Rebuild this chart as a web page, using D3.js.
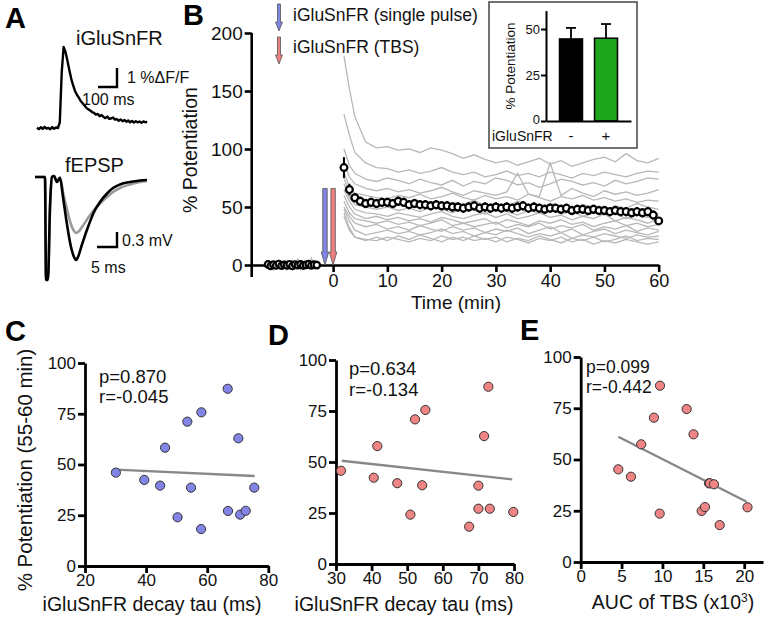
<!DOCTYPE html>
<html><head><meta charset="utf-8">
<script src="https://cdn.jsdelivr.net/npm/d3@7"></script>
<style>body{margin:0;background:#fff}svg{display:block}</style>
</head><body><svg id="c" width="766" height="622"></svg>
<script>
// ---------------- DATA ----------------
// Panel A: iGluSnFR single-pulse transient (%dF/F vs ms)
const snfrTimeMs = [0,10,20,30,40,50,60,70,80,90,100,110,120,130,140,150,160,170,180,190,200,210,220,230,240,250,260,270,280,290,300,310,320,330,340,350,360,370,380,390,400,410,420,430,440,450,460,470,480,490,500,510,520,530,540,550,560,570,580];
const snfrDff = [0.02,-0.06,0.04,-0.05,0.06,-0.03,0.0,-0.07,0.05,-0.04,0.03,0.0,0.3,2.9,4.26,4.0,3.55,3.05,2.6,2.25,1.95,1.75,1.6,1.42,1.3,1.18,1.06,0.98,0.92,0.84,0.8,0.7,0.74,0.62,0.68,0.58,0.52,0.6,0.48,0.5,0.55,0.44,0.47,0.38,0.45,0.36,0.42,0.33,0.4,0.3,0.37,0.28,0.36,0.3,0.34,0.27,0.35,0.3,0.32];
// Panel A: fEPSP before (gray) / after (black) TBS (mV vs ms)
const fepspTimeMs = [0,2,2.5,2.75,3.25,3.75,4.25,4.75,5.5,6.25,7,8,9,9.75,10.25,10.75,11.75,13.25,14.75,16.25,18,19.5,21.25,23.75,26.25,28];
const fepspBefore = [0,0,0,-2.0,-2.0,-0.6,0,0.02,-0.08,0,-0.3,-0.65,-0.95,-1.08,-1.12,-1.1,-1.0,-0.82,-0.66,-0.53,-0.4,-0.3,-0.22,-0.15,-0.1,-0.08];
const fepspAfter = [0,0,0,-2.06,-2.06,-0.6,0,0.02,-0.1,-0.02,-0.4,-0.95,-1.4,-1.6,-1.66,-1.6,-1.35,-1.0,-0.7,-0.5,-0.33,-0.22,-0.15,-0.1,-0.07,-0.06];

// Panel B: baseline period
const baselineTimes = [-12,-11.5,-11,-10.5,-10,-9.5,-9,-8.5,-8,-7.5,-7,-6.5,-6,-5.5,-5,-4.5,-4,-3.5,-3];
const baselineMean = [0.5,-0.8,0.3,-0.4,0.9,-0.6,0.2,-0.3,0.7,-0.9,0.4,-0.2,0.6,-0.5,0.1,0.8,-0.4,0.3,-0.1];
const baselineCells = [
  [2,-3,1,-2,4,-1,3,-4,2,0,-3,5,1,-2,3,-1,2,-3,1],
  [-2,1,-4,3,-1,2,-2,0,-3,4,-1,2,-4,3,0,-2,6,1,-1],
  [1,3,-1,-3,2,-2,0,4,-1,1,3,-2,2,-1,-3,2,0,-2,4]
];
// Panel B: post-TBS mean +/- SEM
const ltpTimes = [2,3,4,5,6,7,8,9,10,11,12,13,14,15,16,17,18,19,20,21,22,23,24,25,26,27,28,29,30,31,32,33,34,35,36,37,38,39,40,41,42,43,44,45,46,47,48,49,50,51,52,53,54,55,56,57,58,59,60];
const ltpMean = [84,65,58,55,53,54,53,54,54,53,55,54,52,53,52,52,51,52,51,51,50,50,49,50,51,49,50,49,50,49,50,49,50,51,49,50,49,48,49,49,48,49,47,48,48,47,48,47,47,46,47,46,46,45,46,45,46,43,38];
const ltpSem = [9,5,4,4,4,4,4,4,4,4,4,4,4,4,4,4,4,4,4,4,4,4,4,4,4,4,4,4,4,4,4,4,4,4,4,4,4,4,4,4,4,4,4,4,4,4,4,4,4,4,4,4,4,4,4,4,4,4,3];
// Panel B: individual slices (gray)
const cellTimes = [2,3,4,6,8,10,12,14,16,18,20,22,24,26,28,30,32,34,36,38,40,42,44,46,48,50,52,54,56,58,60];
const cellTraces = [
  [180,152,128,106,101,102,99,100,97,101,99,96,92,95,91,88,90,86,89,92,87,90,85,88,91,93,89,96,90,88,92],
  [130,112,97,88,84,83,80,82,79,81,84,80,78,80,76,78,81,77,79,76,80,78,75,79,77,80,78,76,79,81,80],
  [100,86,79,74,72,75,73,70,74,71,69,73,68,72,70,75,73,69,71,67,70,74,72,69,71,68,73,70,72,75,74],
  [88,76,70,66,64,66,63,65,62,64,67,63,60,64,62,60,63,79,61,59,88,60,66,62,59,64,61,63,60,62,65],
  [80,68,62,60,58,57,60,58,61,57,59,62,58,56,60,57,59,56,61,58,55,59,57,60,56,58,55,57,54,56,55],
  [75,62,56,53,55,52,54,51,55,53,50,54,52,56,51,53,50,55,52,49,53,51,48,52,50,47,51,49,53,50,48],
  [70,58,52,50,48,50,47,49,46,50,48,45,49,47,44,48,46,43,47,45,49,44,46,42,45,48,44,40,43,41,44],
  [65,55,48,45,44,42,45,43,41,44,46,42,40,43,45,41,44,40,42,45,41,43,39,42,40,44,38,41,39,36,40],
  [60,50,44,40,42,39,41,38,40,37,41,39,36,38,40,35,39,37,34,38,36,39,35,37,33,36,38,34,36,33,35],
  [55,45,40,38,36,38,35,37,34,36,39,34,36,33,35,37,32,35,33,36,31,34,32,35,30,33,31,34,29,32,30],
  [50,42,36,33,35,31,33,30,34,31,29,33,30,32,28,31,29,32,27,30,33,28,31,26,29,31,27,30,28,26,29],
  [48,38,30,26,28,30,27,29,26,28,31,27,29,25,28,26,30,27,24,27,25,28,23,26,24,27,25,23,26,24,25],
  [45,32,24,21,24,21,25,22,26,23,20,24,21,25,22,24,20,23,21,25,22,19,23,21,24,20,22,25,21,23,22],
  [42,30,24,22,21,24,22,20,23,21,25,22,24,21,23,20,24,22,19,23,21,24,20,22,18,21,19,22,20,18,20]
];
const stimTimes = [-1.5, 0];            // single pulse, TBS
const stimLabels = ["iGluSnFR (single pulse)", "iGluSnFR (TBS)"];
const stimColors = ["#8084e2", "#ea8080"];
// Inset bars
const insetGroups = ["-", "+"];
const insetMeans = [44.6, 45.0];
const insetSems = [6.0, 7.7];
const insetColors = ["#000000", "#1ea51e"];
// Panel C
const tauSingle = [30.1,39.4,44.6,46.2,50.3,53.5,54.7,58.0,58.1,66.7,66.8,70.2,70.8,72.6,75.4];
const potSingle = [46.0,42.4,39.6,58.3,24.0,71.1,38.6,18.2,75.7,87.3,27.1,62.9,25.3,27.2,38.6];
const fitC = {x:[30,75.5], y:[47.5,44.3]};
// Panel D
const tauTBS = [31.4,40.6,41.6,47.2,50.9,52.2,54.2,55.1,67.4,70.0,70.0,71.6,72.8,73.2,79.8];
const potTBS = [45.7,42.3,57.8,39.6,24.2,70.9,38.6,75.5,18.3,38.4,27.1,62.7,86.9,27.1,25.5];
const fitD = {x:[31.6,79.5], y:[50.6,41.5]};
// Panel E
const aucTBS = [4.6,6.15,7.4,8.96,9.7,9.66,12.96,13.8,14.8,15.2,15.7,15.8,16.3,17.0,20.4];
const potAUC = [45.2,41.6,57.4,70.4,86.0,23.6,74.6,62.3,24.9,26.8,38.4,38.4,37.9,18.0,26.7];
const fitE = {x:[4.6,20.3], y:[61.1,29.4]};

// ---------------- DRAW ----------------
const FONT = "Arial, 'Liberation Sans', Helvetica, sans-serif";
const svg = d3.select("#c");
function text(x, y, s, fs, o = {}) {
  const t = svg.append("text").attr("x", x).attr("y", y).attr("font-family", FONT)
    .attr("font-size", fs).attr("fill", o.fill || "#111").text(s);
  if (o.anchor) t.attr("text-anchor", o.anchor);
  if (o.weight) t.attr("font-weight", o.weight);
  if (o.rotate) t.attr("transform", `rotate(-90,${x},${y})`);
  return t;
}
function styleAxis(g, fs, sw) {
  g.attr("font-family", FONT).attr("font-size", fs);
  g.select(".domain").attr("stroke", "#000").attr("stroke-width", sw);
  g.selectAll(".tick line").attr("stroke", "#000").attr("stroke-width", sw);
  g.selectAll(".tick text").attr("fill", "#111");
}
function arrow(g, x, y0, y1, bw, hw, hl, fill) {
  const p = `M${x-bw/2},${y0}L${x+bw/2},${y0}L${x+bw/2},${y1-hl}L${x+hw/2},${y1-hl}L${x},${y1}L${x-hw/2},${y1-hl}L${x-bw/2},${y1-hl}Z`;
  g.append("path").attr("d", p).attr("fill", fill).attr("stroke", "#555").attr("stroke-width", 0.8);
}

// Panel letters
[["A",5,28],["B",183,25],["C",5,341],["D",268,345],["E",520,340]].forEach(d =>
  text(d[1], d[2], d[0], 29, {weight: "bold", fill: "#000"}));

// ---- Panel A ----
const sx = d3.scaleLinear().domain([0, 580]).range([37, 147.2]);
const sy = d3.scaleLinear().domain([0, 4.26]).range([128, 47]);
svg.append("path").datum(snfrTimeMs.map((t, i) => [t, snfrDff[i]]))
  .attr("d", d3.line().x(d => sx(d[0])).y(d => sy(d[1])))
  .attr("fill", "none").attr("stroke", "#000").attr("stroke-width", 2.4).attr("stroke-linejoin", "round");
svg.append("path").attr("d", `M${sx(321)},${sy(2.16)}H${sx(421)}V${sy(3.16)}`)
  .attr("fill", "none").attr("stroke", "#000").attr("stroke-width", 2.4);
text(76, 45, "iGluSnFR", 20);
text(127, 83, "1 %ΔF/F", 16);
text(82, 105, "100 ms", 16);

const fx = d3.scaleLinear().domain([0, 28]).range([35, 147]);
const fy = d3.scaleLinear().domain([-2.06, 0]).range([280, 177]);
const fl = d3.line().x((d, i) => fx(fepspTimeMs[i])).y(d => fy(d)).curve(d3.curveMonotoneX);
svg.append("path").attr("d", fl(fepspBefore)).attr("fill", "none").attr("stroke", "#9a9a9a").attr("stroke-width", 2.6);
svg.append("path").attr("d", fl(fepspAfter)).attr("fill", "none").attr("stroke", "#000").attr("stroke-width", 2.6);
svg.append("path").attr("d", `M${fx(15.5)},${fy(-1.4)}H${fx(20.5)}V${fy(-1.1)}`)
  .attr("fill", "none").attr("stroke", "#000").attr("stroke-width", 2.4);
text(65, 172, "fEPSP", 20);
text(122, 246, "0.3 mV", 16);
text(91, 273, "5 ms", 16);

// ---- Panel B ----
const bx = d3.scaleLinear().domain([-15, 60]).range([251.7, 658.7]);
const by = d3.scaleLinear().domain([0, 200]).range([265, 33]);
const gB = svg.append("g");
const lineB = d3.line().x(d => bx(d[0])).y(d => by(d[1]));
cellTraces.forEach(tr => gB.append("path").datum(cellTimes.map((t, i) => [t, tr[i]])).attr("d", lineB)
  .attr("fill", "none").attr("stroke", "#b8b8b8").attr("stroke-width", 1.3));
baselineCells.forEach(tr => gB.append("path").datum(baselineTimes.map((t, i) => [t, tr[i]])).attr("d", lineB)
  .attr("fill", "none").attr("stroke", "#b8b8b8").attr("stroke-width", 1.3));

const axBy = svg.append("g").attr("transform", `translate(${bx(-15)},0)`)
  .call(d3.axisLeft(by).tickValues([0, 50, 100, 150, 200]).tickSize(7).tickPadding(2).tickSizeOuter(0));
styleAxis(axBy, 19, 2.6);
axBy.select(".domain").attr("d", `M0,${by(200)}V${by(0) + 12}`);
const axBx = svg.append("g").attr("transform", `translate(0,${by(0)})`)
  .call(d3.axisBottom(bx).tickValues([0, 10, 20, 30, 40, 50, 60]).tickSize(7).tickPadding(2).tickSizeOuter(0));
styleAxis(axBx, 18, 2.6);
text(197, 150, "% Potentiation", 19.5, {anchor: "middle", rotate: true});
text(456, 309, "Time (min)", 19, {anchor: "middle"});

// stimulation arrows
stimTimes.forEach((t, i) => arrow(svg, bx(t), by(66), by(0), 4.5, 7.5, 13, stimColors[i]));
// legend
stimLabels.forEach((s, i) => {
  arrow(svg, 279, 4 + i * 33, 31 + i * 33, 3, 7, 9, stimColors[i]);
  text(293, 21 + i * 32, s, 17.5);
});

// mean +/- SEM
const gM = svg.append("g");
ltpTimes.forEach((t, i) => gM.append("line").attr("x1", bx(t)).attr("x2", bx(t))
  .attr("y1", by(ltpMean[i] - ltpSem[i])).attr("y2", by(ltpMean[i] + ltpSem[i]))
  .attr("stroke", "#000").attr("stroke-width", 2));
gM.selectAll("circle.b").data(baselineTimes).join("circle").attr("class", "b")
  .attr("cx", d => bx(d)).attr("cy", (d, i) => by(baselineMean[i])).attr("r", 3.2)
  .attr("fill", "#fff").attr("stroke", "#000").attr("stroke-width", 2.2);
gM.selectAll("circle.m").data(ltpTimes).join("circle").attr("class", "m")
  .attr("cx", d => bx(d)).attr("cy", (d, i) => by(ltpMean[i])).attr("r", 3.4)
  .attr("fill", "#fff").attr("stroke", "#000").attr("stroke-width", 2.2);

// inset
svg.append("rect").attr("x", 489).attr("y", 2).attr("width", 148).attr("height", 146)
  .attr("fill", "#fff").attr("stroke", "#444").attr("stroke-width", 1.5);
const ix = d3.scaleBand().domain(insetGroups).range([546, 631]).paddingInner(0.343).paddingOuter(0.386);
const iy = d3.scaleLinear().domain([0, 60]).range([121, 10.6]);
insetGroups.forEach((g, i) => {
  const cx = ix(g) + ix.bandwidth() / 2;
  svg.append("line").attr("x1", cx).attr("x2", cx).attr("y1", iy(insetMeans[i])).attr("y2", iy(insetMeans[i] + insetSems[i]))
    .attr("stroke", "#000").attr("stroke-width", 1.8);
  svg.append("line").attr("x1", cx - 5).attr("x2", cx + 5).attr("y1", iy(insetMeans[i] + insetSems[i])).attr("y2", iy(insetMeans[i] + insetSems[i]))
    .attr("stroke", "#000").attr("stroke-width", 1.8);
  svg.append("rect").attr("x", ix(g)).attr("width", ix.bandwidth()).attr("y", iy(insetMeans[i]))
    .attr("height", iy(0) - iy(insetMeans[i])).attr("fill", insetColors[i]).attr("stroke", "#000").attr("stroke-width", 1.5);
  text(cx, 141, g === "-" ? "-" : "+", 15, {anchor: "middle"});
});
const iay = svg.append("g").attr("transform", "translate(546,0)")
  .call(d3.axisLeft(iy).tickValues([0, 25, 50]).tickSize(5).tickPadding(1).tickSizeOuter(0));
styleAxis(iay, 13, 2);
iay.selectAll(".tick text").filter(d => d === 0).attr("dy", "0.2em");
const iax = svg.append("g").attr("transform", `translate(0,${iy(0)})`)
  .call(d3.axisBottom(d3.scaleLinear().range([546, 631])).tickValues([]).tickSizeOuter(0));
styleAxis(iax, 13, 2);
text(515, 66, "% Potentiation", 13.5, {anchor: "middle", rotate: true});
text(492, 141, "iGluSnFR", 14);

// ---- Scatter panels ----
function scatter(o) {
  const x = d3.scaleLinear().domain(o.xd).range(o.xr);
  const y = d3.scaleLinear().domain([0, 100]).range(o.yr);
  const ay = svg.append("g").attr("transform", `translate(${o.xr[0]},0)`)
    .call(d3.axisLeft(y).tickValues([0, 25, 50, 75, 100]).tickSize(7).tickPadding(2).tickSizeOuter(0));
  styleAxis(ay, 17, 2.8);
  const ax = svg.append("g").attr("transform", `translate(0,${o.yr[0]})`)
    .call(d3.axisBottom(x).tickValues(o.ticks).tickSize(7).tickPadding(1).tickSizeOuter(0));
  styleAxis(ax, 17, 2.8);
  svg.append("line").attr("x1", x(o.fit.x[0])).attr("x2", x(o.fit.x[1]))
    .attr("y1", y(o.fit.y[0])).attr("y2", y(o.fit.y[1])).attr("stroke", "#888").attr("stroke-width", 2.4);
  svg.append("g").selectAll("circle").data(o.xs).join("circle")
    .attr("cx", d => x(d)).attr("cy", (d, i) => y(o.ys[i])).attr("r", 4.6)
    .attr("fill", o.color).attr("stroke", "#333").attr("stroke-width", 1);
  text(o.px, o.py, o.p, o.fs);
  text(o.px, o.py + o.gap, o.r, o.fs);
  return x;
}
scatter({xd: [20, 80], xr: [85, 268.3], yr: [566, 363], ticks: [20, 40, 60, 80], xs: tauSingle, ys: potSingle,
  fit: fitC, color: "#8285e6", p: "p=0.870", r: "r=-0.045", px: 99, py: 383, gap: 20, fs: 18.5});
scatter({xd: [30, 80], xr: [336, 514], yr: [564, 360], ticks: [30, 40, 50, 60, 70, 80], xs: tauTBS, ys: potTBS,
  fit: fitD, color: "#ee8484", p: "p=0.634", r: "r=-0.134", px: 349, py: 375, gap: 21, fs: 18.5});
scatter({xd: [0, 22.3], xr: [580.7, 763], yr: [562, 357], ticks: [0, 5, 10, 15, 20], xs: aucTBS, ys: potAUC,
  fit: fitE, color: "#ee8484", p: "p=0.099", r: "r=-0.442", px: 586, py: 373, gap: 20, fs: 17.5});

text(32, 470, "% Potentiation (55-60 min)", 20.5, {anchor: "middle", rotate: true});
text(152, 611, "iGluSnFR decay tau (ms)", 19.5, {anchor: "middle"});
text(404, 611, "iGluSnFR decay tau (ms)", 19.5, {anchor: "middle"});
const et = text(673, 609, "AUC of TBS (x10", 19.5, {anchor: "middle"});
et.append("tspan").attr("dy", -7).attr("font-size", 12).text("3");
et.append("tspan").attr("dy", 7).text(")");
</script></body></html>
